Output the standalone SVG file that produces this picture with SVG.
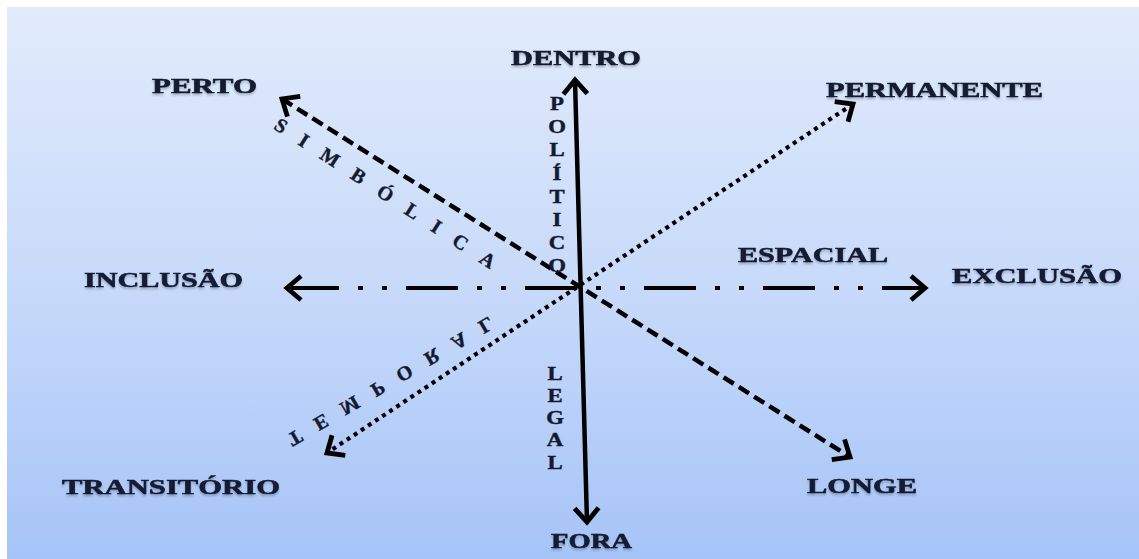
<svg xmlns="http://www.w3.org/2000/svg" width="1139" height="559" viewBox="0 0 1139 559">
  <defs>
    <linearGradient id="bg" x1="0" y1="0" x2="0" y2="1">
      <stop offset="0" stop-color="#e1ebfb"/>
      <stop offset="0.5" stop-color="#c8dafa"/>
      <stop offset="1" stop-color="#a6c4f7"/>
    </linearGradient>
    <marker id="arrow" markerUnits="userSpaceOnUse" orient="auto-start-reverse" refX="0" refY="0" markerWidth="40" markerHeight="40" viewBox="-20 -20 40 40" overflow="visible">
      <path d="M-14,-12 L0,0 L-14,12" fill="none" stroke="#000" stroke-width="4.8" stroke-dasharray="none" stroke-linejoin="miter"/>
    </marker>
    <filter id="soft" x="-10%" y="-30%" width="120%" height="160%">
      <feGaussianBlur in="SourceAlpha" stdDeviation="1.2"/>
      <feOffset dx="0" dy="1.5" result="b"/>
      <feComponentTransfer><feFuncA type="linear" slope="0.25"/></feComponentTransfer>
      <feMerge><feMergeNode/><feMergeNode in="SourceGraphic"/></feMerge>
    </filter>
  </defs>
  <style>
    .lbl { font-family: "Liberation Serif", "Times New Roman", serif; font-weight: bold; font-size: 20px; fill: #131a30; stroke: #131a30; stroke-width: 0.5px; }
    .vert { font-family: "Liberation Serif", "Times New Roman", serif; font-weight: bold; font-size: 19px; fill: #131a30; stroke: #131a30; stroke-width: 0.4px; text-anchor: middle; }
    .diag { font-family: "Liberation Serif", "Times New Roman", serif; font-weight: bold; font-size: 20px; fill: #131a30; stroke: #131a30; stroke-width: 0.4px; }
    .ax { fill: none; stroke: #000; stroke-linecap: butt; }
  </style>

  <rect x="0" y="0" width="1139" height="559" fill="#ffffff"/>
  <rect x="7" y="7" width="1132" height="552" fill="url(#bg)"/>

  <g id="connectors">
    <line class="ax" x1="575" y1="80" x2="587" y2="522" stroke-width="4.5" marker-start="url(#arrow)" marker-end="url(#arrow)"/>
    <line class="ax" x1="282" y1="99" x2="850" y2="457" stroke-width="4.5" stroke-dasharray="12 6" marker-start="url(#arrow)" marker-end="url(#arrow)"/>
    <line class="ax" x1="853" y1="104" x2="327" y2="453" stroke-width="4.2" stroke-dasharray="4 4.5" marker-start="url(#arrow)" marker-end="url(#arrow)"/>
    <line class="ax" x1="287" y1="288" x2="925" y2="288" stroke-width="4.2" stroke-dasharray="52 19 5 19 5 19" marker-start="url(#arrow)" marker-end="url(#arrow)"/>
  </g>

  <g id="dentro" filter="url(#soft)"><text class="lbl" x="511" y="65" textLength="130" lengthAdjust="spacingAndGlyphs">DENTRO</text></g>
  <g id="fora" filter="url(#soft)"><text class="lbl" x="551" y="548" textLength="81" lengthAdjust="spacingAndGlyphs">FORA</text></g>
  <g id="perto" filter="url(#soft)"><text class="lbl" x="152" y="93" textLength="105" lengthAdjust="spacingAndGlyphs">PERTO</text></g>
  <g id="longe" filter="url(#soft)"><text class="lbl" x="807" y="493" textLength="110" lengthAdjust="spacingAndGlyphs">LONGE</text></g>
  <g id="permanente" filter="url(#soft)"><text class="lbl" x="826" y="97" textLength="217" lengthAdjust="spacingAndGlyphs">PERMANENTE</text></g>
  <g id="transitorio" filter="url(#soft)"><text class="lbl" x="62" y="494" textLength="218" lengthAdjust="spacingAndGlyphs">TRANSITÓRIO</text></g>
  <g id="inclusao" filter="url(#soft)"><text class="lbl" x="84" y="287" textLength="159" lengthAdjust="spacingAndGlyphs">INCLUSÃO</text></g>
  <g id="exclusao" filter="url(#soft)"><text class="lbl" x="952" y="283" textLength="170" lengthAdjust="spacingAndGlyphs">EXCLUSÃO</text></g>
  <g id="espacial" filter="url(#soft)"><text class="lbl" x="738" y="262" textLength="150" lengthAdjust="spacingAndGlyphs">ESPACIAL</text></g>

  <g id="politico" transform="translate(557,0) scale(1.2,1)">
    <text class="vert"><tspan x="0" y="110">P</tspan><tspan x="0" y="133">O</tspan><tspan x="0" y="156">L</tspan><tspan x="0" y="180">Í</tspan><tspan x="0" y="203">T</tspan><tspan x="0" y="226">I</tspan><tspan x="0" y="249">C</tspan><tspan x="0" y="272">O</tspan></text>
  </g>
  <g id="legal" transform="translate(555,0) scale(1.2,1)">
    <text class="vert"><tspan x="0" y="380">L</tspan><tspan x="0" y="402">E</tspan><tspan x="0" y="424">G</tspan><tspan x="0" y="446">A</tspan><tspan x="0" y="469">L</tspan></text>
  </g>
  <g id="simbolica" transform="translate(272.8,128.2) rotate(33)">
    <text class="diag" x="0" y="0" textLength="259">SIMBÓLICA</text>
  </g>
  <g id="temporal" transform="translate(286,435.4) rotate(-30.5) scale(1,-1)">
    <text class="diag" x="0" y="0" textLength="235">TEMPORAL</text>
  </g>
</svg>
